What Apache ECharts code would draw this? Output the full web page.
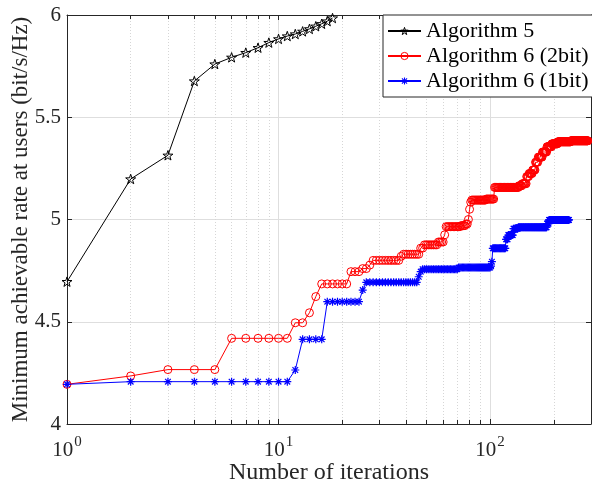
<!DOCTYPE html>
<html>
<head>
<meta charset="utf-8">
<script src="https://cdn.jsdelivr.net/npm/echarts@6/dist/echarts.min.js"></script>
<style>
html, body { margin: 0; padding: 0; background: #fff; }
#chart { width: 592px; height: 481px; }
</style>
</head>
<body>
<div id="chart"></div>
<script>
// Algorithm 5, one point per iteration
var alg5Iter = [1, 2, 3, 4, 5, 6, 7, 8, 9, 10, 11, 12, 13, 14, 15, 16, 17, 18]
var alg5Rate = [4.696, 5.198, 5.314, 5.677, 5.760, 5.793, 5.816, 5.840, 5.865, 5.883,
  5.897, 5.907, 5.920, 5.932, 5.945, 5.957, 5.970, 5.985]

// Algorithm 6: every iteration is marked, so the curves are kept as runs
// [first iteration, last iteration, rate]
var alg6TwoBit = [
  [1, 1, 4.194], [2, 2, 4.235], [3, 5, 4.266], [6, 11, 4.419], [12, 13, 4.495],
  [14, 14, 4.544], [15, 15, 4.623], [16, 21, 4.685], [22, 24, 4.745], [25, 26, 4.760],
  [27, 27, 4.777], [28, 37, 4.800], [38, 38, 4.820], [39, 46, 4.830], [47, 48, 4.860],
  [49, 56, 4.876], [57, 60, 4.890], [61, 61, 4.925], [62, 72, 4.965], [73, 76, 4.970],
  [77, 78, 4.978], [79, 79, 5.000], [80, 80, 5.050], [81, 81, 5.085], [82, 95, 5.095],
  [96, 104, 5.100], [105, 136, 5.157], [137, 141, 5.165], [142, 148, 5.175], [149, 152, 5.210],
  [153, 158, 5.225], [159, 163, 5.242], [164, 168, 5.280], [169, 176, 5.305], [177, 185, 5.330],
  [186, 195, 5.356], [196, 208, 5.370], [209, 240, 5.380], [241, 290, 5.385]
]
var alg6OneBit = [
  [1, 1, 4.194], [2, 11, 4.207], [12, 12, 4.264], [13, 16, 4.414], [17, 24, 4.598],
  [25, 25, 4.655], [26, 45, 4.693], [46, 46, 4.720], [47, 47, 4.745], [48, 70, 4.757],
  [71, 100, 4.765], [101, 101, 4.772], [102, 102, 4.794], [103, 118, 4.859], [119, 121, 4.903],
  [122, 128, 4.924], [129, 135, 4.955], [136, 185, 4.962], [186, 189, 4.980], [190, 236, 4.998]
]

var xMin = 1
var xMax = 300
var yMin = 4
var yMax = 6
var yStep = 0.5
var minorX = [2, 3, 4, 5, 6, 7, 8, 9, 20, 30, 40, 50, 60, 70, 80, 90, 200]

var serif = '"Liberation Serif", "DejaVu Serif", serif'
var ink = '#262626'

function expandRuns (runs) {
  var pts = []
  runs.forEach(function (r) {
    for (var i = r[0]; i <= r[1]; i++) pts.push([i, r[2]])
  })
  return pts
}

function starPath () {
  var d = ''
  for (var k = 0; k < 10; k++) {
    var r = k % 2 === 0 ? 10 : 3.9
    var a = Math.PI / 5 * k - Math.PI / 2
    d += (k === 0 ? 'M' : 'L') + (r * Math.cos(a)).toFixed(2) + ' ' + (r * Math.sin(a)).toFixed(2) + ' '
  }
  return 'path://' + d + 'Z'
}

function asteriskPath () {
  var d = ''
  ;[0, 45, 90, 135].forEach(function (deg) {
    var a = deg * Math.PI / 180
    var c = Math.cos(a)
    var s = Math.sin(a)
    var box = [[-10, -1.5], [10, -1.5], [10, 1.5], [-10, 1.5]]
    box.forEach(function (p, i) {
      var x = p[0] * c - p[1] * s
      var y = p[0] * s + p[1] * c
      d += (i === 0 ? 'M' : 'L') + x.toFixed(2) + ' ' + y.toFixed(2) + ' '
    })
    d += 'Z '
  })
  return 'path://' + d
}

// dotted minor grid + small minor ticks on bottom and top edges
var minorMarks = []
minorX.forEach(function (v) {
  minorMarks.push({ xAxis: v, lineStyle: { color: '#d6d6d6', type: [1, 2], width: 1 } })
  minorMarks.push([{ coord: [v, yMin], lineStyle: { color: ink, type: 'solid', width: 1 } }, { coord: [v, yMin + 0.02] }])
  minorMarks.push([{ coord: [v, yMax], lineStyle: { color: ink, type: 'solid', width: 1 } }, { coord: [v, yMax - 0.02] }])
})

var chart = echarts.init(document.getElementById('chart'), null, { renderer: 'canvas' })

var logAxisBase = {
  type: 'log',
  logBase: 10,
  min: xMin,
  max: xMax,
  gridIndex: 0,
  axisLine: { show: true, lineStyle: { color: ink, width: 1 } },
  axisTick: { show: true, inside: true, length: 5, lineStyle: { color: ink } },
  minorTick: { show: false },
  splitLine: { show: false }
}

var starSymbol = starPath()
var asteriskSymbol = asteriskPath()

var option = {
  animation: false,
  backgroundColor: '#fff',
  textStyle: { fontFamily: serif },
  grid: { left: 67, right: 1, top: 15, bottom: 57, containLabel: false, outerBoundsMode: 'none' },
  legend: {
    orient: 'vertical',
    left: 383,
    top: 15,
    padding: [4, 6, 4, 4],
    itemGap: 1,
    itemWidth: 33,
    itemHeight: 9,
    backgroundColor: '#fff',
    borderColor: ink,
    borderWidth: 1,
    borderRadius: 0,
    textStyle: { fontFamily: serif, fontSize: 22, color: '#000', lineHeight: 24 },
    data: [
      { name: 'Algorithm 5', itemStyle: { color: 'rgba(0,0,0,0)', borderColor: '#000', borderWidth: 1 } },
      { name: 'Algorithm 6 (2bit)', itemStyle: { color: 'rgba(255,0,0,0)', borderColor: '#ff0000', borderWidth: 1 } },
      { name: 'Algorithm 6 (1bit)' }
    ]
  },
  xAxis: [
    Object.assign({}, logAxisBase, {
      position: 'bottom',
      name: 'Number of iterations',
      nameLocation: 'middle',
      nameGap: 37,
      nameMoveOverlap: false,
      nameTextStyle: { fontFamily: serif, fontSize: 24, color: ink },
      splitLine: { show: true, lineStyle: { color: '#dedede', width: 1 } },
      axisLabel: {
        show: true,
        margin: 11,
        showMaxLabel: false,
        color: ink,
        formatter: function (v) {
          var e = Math.round(Math.log10(v))
          if (Math.abs(Math.pow(10, e) - v) > 1e-6) return ''
          return '{b|10}{s|' + e + '}'
        },
        rich: {
          b: { fontFamily: serif, fontSize: 21, color: ink, lineHeight: 26, verticalAlign: 'bottom' },
          s: { fontFamily: serif, fontSize: 15, color: ink, lineHeight: 26, verticalAlign: 'top', padding: [0, 0, 0, 1] }
        }
      }
    }),
    Object.assign({}, logAxisBase, {
      position: 'top',
      axisLabel: { show: false }
    })
  ],
  yAxis: [
    {
      type: 'value',
      min: yMin,
      max: yMax,
      interval: yStep,
      position: 'left',
      name: 'Minimum achievable rate at users (bit/s/Hz)',
      nameLocation: 'middle',
      nameGap: 35,
      nameMoveOverlap: false,
      nameTextStyle: { fontFamily: serif, fontSize: 23, color: ink },
      axisLine: { show: true, lineStyle: { color: ink, width: 1 } },
      axisTick: { show: true, inside: true, length: 5, lineStyle: { color: ink } },
      axisLabel: { show: true, margin: 6, color: ink, fontFamily: serif, fontSize: 21 },
      splitLine: { show: true, lineStyle: { color: '#dedede', width: 1 } }
    },
    {
      type: 'value',
      min: yMin,
      max: yMax,
      interval: yStep,
      position: 'right',
      axisLine: { show: true, lineStyle: { color: ink, width: 1 } },
      axisTick: { show: true, inside: true, length: 5, lineStyle: { color: ink } },
      axisLabel: { show: false },
      splitLine: { show: false }
    }
  ],
  series: [
    {
      name: 'Algorithm 5',
      type: 'line',
      xAxisIndex: 0,
      yAxisIndex: 0,
      data: alg5Iter.map(function (x, i) { return [x, alg5Rate[i]] }),
      symbol: starSymbol,
      symbolSize: 10,
      symbolKeepAspect: true,
      showAllSymbol: true,
      lineStyle: { color: '#000', width: 1 },
      itemStyle: { color: 'rgba(0,0,0,0)', borderColor: '#000', borderWidth: 1 },
      markLine: {
        silent: true,
        symbol: ['none', 'none'],
        z: 1,
        label: { show: false },
        emphasis: { disabled: true },
        data: minorMarks
      }
    },
    {
      name: 'Algorithm 6 (2bit)',
      type: 'line',
      xAxisIndex: 0,
      yAxisIndex: 0,
      data: expandRuns(alg6TwoBit),
      symbol: 'circle',
      symbolSize: 8,
      showAllSymbol: true,
      lineStyle: { color: '#ff0000', width: 1 },
      itemStyle: { color: 'rgba(255,0,0,0)', borderColor: '#ff0000', borderWidth: 1 }
    },
    {
      name: 'Algorithm 6 (1bit)',
      type: 'line',
      xAxisIndex: 0,
      yAxisIndex: 0,
      data: expandRuns(alg6OneBit),
      symbol: asteriskSymbol,
      symbolSize: 8,
      symbolKeepAspect: true,
      showAllSymbol: true,
      lineStyle: { color: '#0000ff', width: 1 },
      itemStyle: { color: '#0000ff', borderWidth: 0 }
    }
  ]
}

chart.setOption(option)
</script>
</body>
</html>
